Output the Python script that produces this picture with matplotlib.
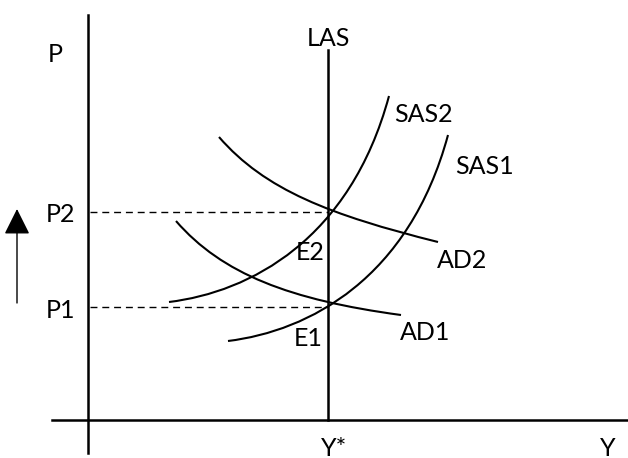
import matplotlib
matplotlib.use("Agg")
import matplotlib.pyplot as plt
from matplotlib.path import Path
from matplotlib.patches import PathPatch, FancyArrowPatch

plt.rcParams["font.family"] = ["Lato", "DejaVu Sans"]

# diagram drawn in picture units (x right, y down), 628 x 458
# Bezier control points for each curve: start, ctrl1, ctrl2, end
sas2 = [(169, 302), (250, 292), (350, 240), (389, 96)]
sas1 = [(228, 341), (309, 331), (409, 279), (448, 135)]
ad2 = [(219, 137), (265, 190), (330, 215), (438, 242)]
ad1 = [(176, 221), (222, 274), (290, 300), (401, 315)]

curve_labels = ["SAS2", "SAS1", "AD2", "AD1"]
label_pos = [(423, 114), (484, 166), (462, 260), (425, 333)]

p_levels = [212, 307]
p_labels = ["P2", "P1"]
y_star = 328

fig = plt.figure(figsize=(6.28, 4.58), dpi=100)
ax = fig.add_axes([0, 0, 1, 1])
ax.set_xlim(0, 628)
ax.set_ylim(458, 0)
ax.axis("off")

fs = 18

# axes
ax.plot([88, 88], [15, 453], color="black", lw=1.8)
ax.plot([52, 628], [420, 420], color="black", lw=1.8)
# LAS
ax.plot([y_star, y_star], [50, 420], color="black", lw=1.8)

for lvl, lab in zip(p_levels, p_labels):
    ax.plot([90, y_star], [lvl, lvl], color="black", lw=1, linestyle=(0, (5, 3.5)))
    ax.text(61, lvl + 3, lab, ha="center", va="center", fontsize=fs)

codes = [Path.MOVETO, Path.CURVE4, Path.CURVE4, Path.CURVE4]
for pts, lab, pos in zip([sas2, sas1, ad2, ad1], curve_labels, label_pos):
    ax.add_patch(PathPatch(Path(pts, codes), fill=False, lw=1.5, edgecolor="black"))
    ax.text(pos[0], pos[1], lab, ha="center", va="center", fontsize=fs)

ax.text(55, 55, "P", ha="center", va="center", fontsize=fs)
ax.text(y_star, 38, "LAS", ha="center", va="center", fontsize=fs)
ax.text(310, 252, "E2", ha="center", va="center", fontsize=fs)
ax.text(308, 339, "E1", ha="center", va="center", fontsize=fs)
ax.text(334, 448, "Y*", ha="center", va="center", fontsize=fs)
ax.text(608, 448, "Y", ha="center", va="center", fontsize=fs)

ax.add_patch(FancyArrowPatch((17, 303), (17, 209), arrowstyle="-|>,head_length=1.6,head_width=0.8",
                             color="black", lw=1, mutation_scale=10, shrinkA=0, shrinkB=0))

fig.savefig("out.png", dpi=100)
